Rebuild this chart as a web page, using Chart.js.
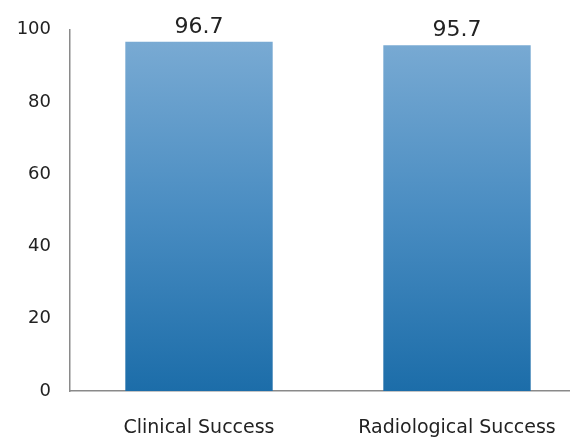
<!DOCTYPE html>
<html>
<head>
<meta charset="utf-8">
<script src="https://cdn.jsdelivr.net/npm/chart.js@4"></script>
<style>
  html, body { margin: 0; padding: 0; background: #fff; overflow: hidden; }
</style>
</head>
<body>
<canvas id="myChart" width="586" height="438"></canvas>
<script>
const categories = ["Clinical Success", "Radiological Success"];
const successRates = [96.7, 95.7];
const yTicks = [0, 20, 40, 60, 80, 100];

const ctx = document.getElementById("myChart").getContext("2d");

function barGradient(context) {
  const chart = context.chart;
  const area = chart.chartArea;
  if (!area) return "#3a85bf";
  const g = chart.ctx.createLinearGradient(0, area.top, 0, area.bottom);
  g.addColorStop(0, "rgb(124, 172, 212)");
  g.addColorStop(0.5, "rgb(74, 141, 194)");
  g.addColorStop(1, "rgb(28, 109, 169)");
  return g;
}

// draws the value above each bar
const valueLabels = {
  id: "valueLabels",
  afterDatasetsDraw(chart) {
    const c = chart.ctx;
    const meta = chart.getDatasetMeta(0);
    c.save();
    c.font = "22px 'DejaVu Sans'";
    c.fillStyle = "#222";
    c.textAlign = "center";
    c.textBaseline = "alphabetic";
    meta.data.forEach((bar, i) => {
      c.fillText(successRates[i].toFixed(1), bar.x, bar.y - 9);
    });
    c.restore();
  }
};

new Chart(ctx, {
  type: "bar",
  data: {
    labels: categories,
    datasets: [
      {
        data: successRates,
        backgroundColor: barGradient,
        borderWidth: 0,
        barPercentage: 0.8,
        categoryPercentage: 0.714
      }
    ]
  },
  options: {
    responsive: false,
    animation: false,
    layout: { padding: { top: 28, right: 0, left: 0, bottom: 0 } },
    plugins: {
      legend: { display: false },
      tooltip: { enabled: false }
    },
    scales: {
      y: {
        min: 0,
        max: 100,
        afterBuildTicks(scale) {
          scale.ticks = yTicks.map((v) => ({ value: v }));
        },
        afterFit(scale) { scale.width = 70; },
        grid: { display: false, drawTicks: false },
        border: { display: true, color: "#8a8a8a", width: 1.5 },
        ticks: {
          padding: 19,
          color: "#222",
          font: { family: "DejaVu Sans", size: 18 }
        }
      },
      x: {
        afterFit(scale) { scale.height = 47; },
        grid: { display: false, drawTicks: false },
        border: { display: true, color: "#8a8a8a", width: 1.5 },
        ticks: {
          padding: 26,
          color: "#222",
          font: { family: "DejaVu Sans", size: 19 }
        }
      }
    }
  },
  plugins: [valueLabels]
});
</script>
</body>
</html>
